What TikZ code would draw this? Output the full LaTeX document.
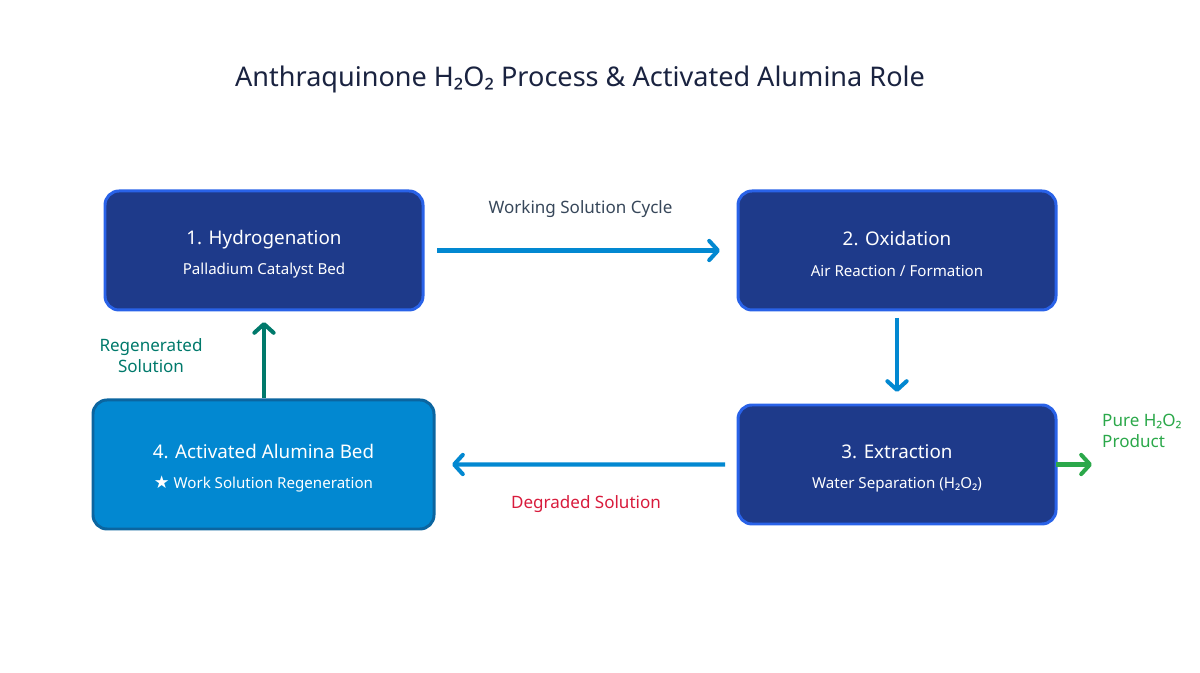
\documentclass[tikz,border=0pt]{standalone}
\usepackage{fontspec}
\setmainfont{Noto Sans}
\newfontfamily\symfont{DejaVu Sans}
\usetikzlibrary{arrows.meta,positioning,calc}

\definecolor{titlecol}{HTML}{1A2340}
\definecolor{procfill}{HTML}{1E3A8A}
\definecolor{procline}{HTML}{2962E8}
\definecolor{bedfill}{HTML}{0288D1}
\definecolor{bedline}{HTML}{0B65A0}
\definecolor{cycleblue}{HTML}{0288D1}
\definecolor{regenteal}{HTML}{00796B}
\definecolor{degradred}{HTML}{D81B3C}
\definecolor{prodgreen}{HTML}{2BA84A}
\definecolor{labelgrey}{HTML}{37475A}

\tikzset{
  proc/.style={
    draw=procline,
    fill=procfill,
    line width=1.7pt,
    outer sep=0pt,
    rounded corners=0.28cm,
    minimum width=6.36cm,
    minimum height=2.38cm,
    text=white,
    align=center,
  },
  bed/.style={proc,
    draw=bedline,
    fill=bedfill,
    minimum width=6.82cm,
    minimum height=2.58cm,
  },
  flow/.style={
    line width=2.3pt,
    -{Straight Barb[length=5pt,width=11pt,round]},
  },
  flowlabel/.style={font=\fontsize{9.7}{12}\selectfont},
}

\newcommand{\procbox}[2]{{\fontsize{10.7}{13}\selectfont\rule{0pt}{12pt}#1}\\[5.2pt]{\fontsize{8.6}{10}\selectfont #2}}

\begin{document}
\begin{tikzpicture}[node distance = 6.3cm]
        \useasboundingbox (0,0) rectangle (24,13.46);

        \node (title) [text=titlecol,font=\fontsize{15.4}{18}\selectfont] at (11.6,11.88)
        {Anthraquinone H₂O₂ Process \& Activated Alumina Role};

        \node (hydro) [proc] at (5.28,8.45)
        {\procbox{1. Hydrogenation}{Palladium Catalyst Bed}};

        \node (oxid) [proc,right=of hydro]
        {\procbox{2. Oxidation}{Air Reaction / Formation}};

        \node (extr) [proc,below=1.9 of oxid]
        {\procbox{3. Extraction}{Water Separation (H₂O₂)}};

        \node (alum) [bed] at (5.27,4.17)
        {\procbox{4. Activated Alumina Bed}{{\symfont\fontsize{10}{10}\selectfont\char"2605} Work Solution Regeneration}};

        % working solution loop
        \draw [flow,cycleblue,shorten <=0.28cm,shorten >=0.36cm] (hydro.east) -- (oxid.west)
        node [midway,above=0.5cm,flowlabel,text=labelgrey] (cycle) {Working Solution Cycle};

        \draw [flow,cycleblue,shorten <=0.16cm,shorten >=0.26cm] (oxid.south) -- (extr.north);

        \draw [flow,cycleblue,shorten <=0.26cm,shorten >=0.36cm] (extr.west) -- (alum.east)
        node [midway,below=0.47cm,flowlabel,text=degradred] (degr) {Degraded Solution};

        \draw [flow,regenteal,shorten <=0.04cm,shorten >=0.24cm] (alum.north -| hydro.south) -- (hydro.south);

        \node (regen) [flowlabel,text=regenteal,align=center] at (3.02,6.34) {Regenerated\\Solution};

        % product out
        \coordinate (out) at ($(extr.east)+(0.72,0)$);
        \draw [flow,prodgreen] (extr.east) -- (out);
        \node (prod) [flowlabel,text=prodgreen,align=left,anchor=west] at (21.92,4.84) {Pure H₂O₂\\Product};
      \end{tikzpicture}
\end{document}
